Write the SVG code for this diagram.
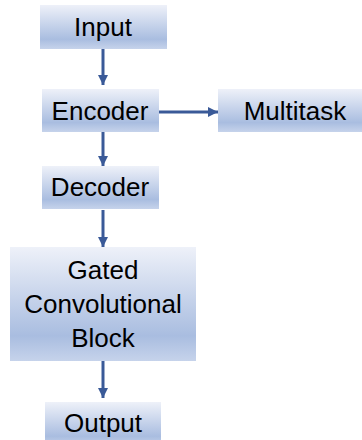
<svg xmlns="http://www.w3.org/2000/svg" width="362" height="440" viewBox="0 0 362 440">
  <defs>
    <linearGradient id="g" x1="0" y1="0" x2="0" y2="1">
      <stop offset="0" stop-color="#eef1f9"/>
      <stop offset="0.78" stop-color="#a9bde0"/>
      <stop offset="1" stop-color="#c6d3eb"/>
    </linearGradient>
    <marker id="ah" viewBox="0 0 10 10" refX="10" refY="5" markerWidth="3.5" markerHeight="3.5" markerUnits="strokeWidth" orient="auto">
      <path d="M0,0 L10,5 L0,10 z" fill="#3a5a98"/>
    </marker>
    <style>
      .box { fill: url(#g); }
      .lbl { font-family: "Liberation Sans", Arial, sans-serif; font-size: 26px; fill: #000; text-anchor: middle; }
      .edge { stroke: #3a5a98; stroke-width: 3; fill: none; marker-end: url(#ah); }
    </style>
  </defs>
  <g id="connectors">
    <line class="edge" x1="103" y1="49" x2="103" y2="85"/>
    <line class="edge" x1="103" y1="132" x2="103" y2="166"/>
    <line class="edge" x1="103" y1="210" x2="103" y2="247"/>
    <line class="edge" x1="103" y1="361" x2="103" y2="398"/>
    <line class="edge" x1="159" y1="112" x2="218" y2="112"/>
  </g>
  <g id="input">
    <rect class="box" x="40" y="5" width="127" height="44"/>
    <text class="lbl" x="103" y="36">Input</text>
  </g>
  <g id="encoder">
    <rect class="box" x="42" y="89" width="117" height="43"/>
    <text class="lbl" x="100" y="120">Encoder</text>
  </g>
  <g id="multitask">
    <rect class="box" x="218" y="89" width="144" height="43"/>
    <text class="lbl" x="295" y="120">Multitask</text>
  </g>
  <g id="decoder">
    <rect class="box" x="42" y="166" width="117" height="43"/>
    <text class="lbl" x="100" y="196">Decoder</text>
  </g>
  <g id="gated">
    <rect class="box" x="10" y="247" width="186" height="114"/>
    <text class="lbl" x="103" y="279">Gated</text>
    <text class="lbl" x="103" y="313">Convolutional</text>
    <text class="lbl" x="103" y="347">Block</text>
  </g>
  <g id="output">
    <rect class="box" x="45" y="402" width="116" height="44"/>
    <text class="lbl" x="103" y="432">Output</text>
  </g>
</svg>
